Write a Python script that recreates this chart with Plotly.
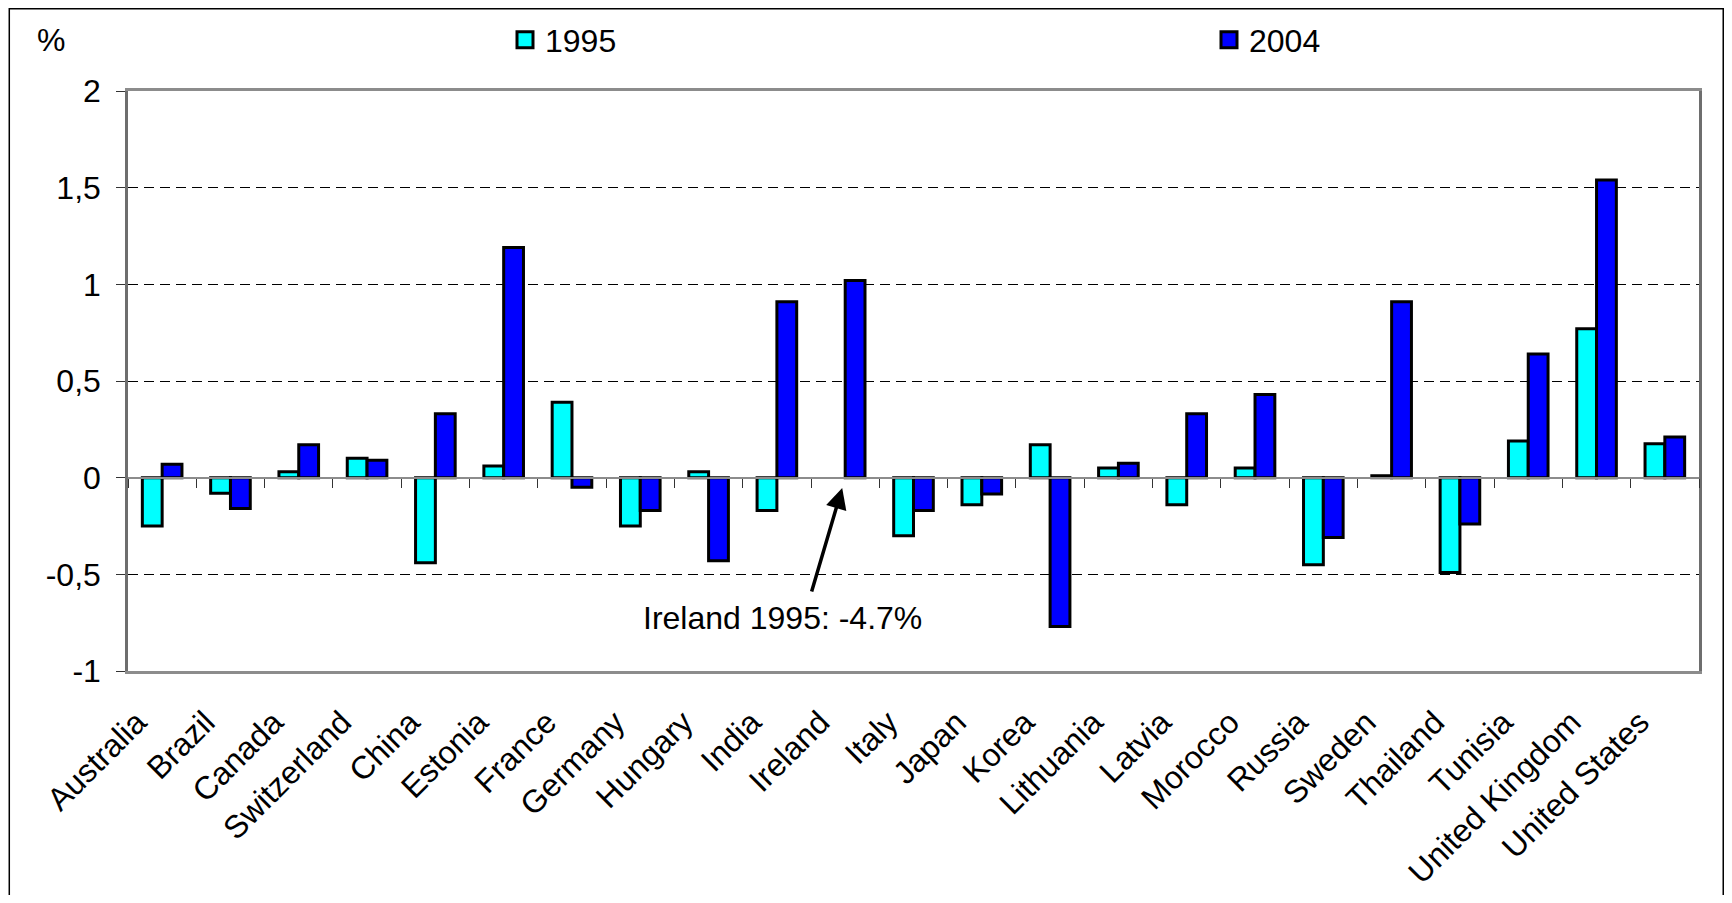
import plotly.graph_objects as go

countries = ["Australia", "Brazil", "Canada", "Switzerland", "China", "Estonia", "France",
             "Germany", "Hungary", "India", "Ireland", "Italy", "Japan", "Korea", "Lithuania",
             "Latvia", "Morocco", "Russia", "Sweden", "Thailand", "Tunisia", "United Kingdom",
             "United States"]
values_1995 = [-0.25, -0.08, 0.03, 0.10, -0.44, 0.06, 0.39, -0.25, 0.03, -0.17, None, -0.30,
               -0.14, 0.17, 0.05, -0.14, 0.05, -0.45, 0.01, -0.49, 0.19, 0.77, 0.175]
values_2004 = [0.07, -0.16, 0.17, 0.09, 0.33, 1.19, -0.05, -0.17, -0.43, 0.91, 1.02, -0.17,
               -0.085, -0.77, 0.075, 0.33, 0.43, -0.31, 0.91, -0.24, 0.64, 1.54, 0.21]
series_names = ["1995", "2004"]
y_tickvals = [-1, -0.5, 0, 0.5, 1, 1.5, 2]
y_ticktext = ["-1", "-0,5", "0", "0,5", "1", "1,5", "2"]
annotation_text = "Ireland 1995: -4.7%"
unit_label = "%"

FONT = "Liberation Sans, Arial, sans-serif"
C1995 = "#00FFFF"
C2004 = "#0000FF"

# The page body has an 8px margin: size the figure so it fits the window exactly.
OFF = 8
FW, FH = 1732 - 2 * OFF, 903 - 2 * OFF
# plot area in window pixels
X0W, X1W, Y0W, Y1W = 127.5, 1699, 91, 671
L, T = X0W - OFF, Y0W - OFF
R, B = FW - (X1W - OFF), FH - (Y1W - OFF)
pw, ph = X1W - X0W, Y1W - Y0W


def px_x(px):
    return (px - X0W) / pw


def px_y(py):
    return (Y1W - py) / ph


fig = go.Figure()
fig.add_trace(go.Bar(x=countries, y=values_1995, name=series_names[0],
                     marker=dict(color=C1995, line=dict(color="black", width=3)),
                     showlegend=False))
fig.add_trace(go.Bar(x=countries, y=values_2004, name=series_names[1],
                     marker=dict(color=C2004, line=dict(color="black", width=3)),
                     showlegend=False))
# legend entries (one legend each, placed like the original)
fig.add_trace(go.Scatter(x=[None], y=[None], mode="markers", name=series_names[0],
                         legend="legend",
                         marker=dict(symbol="square", size=16, color=C1995,
                                     line=dict(color="black", width=3))))
fig.add_trace(go.Scatter(x=[None], y=[None], mode="markers", name=series_names[1],
                         legend="legend2",
                         marker=dict(symbol="square", size=16, color=C2004,
                                     line=dict(color="black", width=3))))
# invisible trace to carry the zero-line category axis
fig.add_trace(go.Scatter(x=countries, y=[0] * len(countries), xaxis="x2", mode="markers",
                         marker=dict(opacity=0), hoverinfo="skip", showlegend=False))

leg_common = dict(orientation="h", xanchor="left", yanchor="middle", itemsizing="trace",
                  font=dict(family=FONT, size=32, color="black"),
                  bgcolor="rgba(0,0,0,0)", borderwidth=0, xref="container",
                  yref="container")

fig.update_layout(
    width=FW, height=FH,
    margin=dict(l=L, r=R, t=T, b=B, pad=0, autoexpand=False),
    paper_bgcolor="white", plot_bgcolor="white",
    font=dict(family=FONT, size=32, color="black"),
    barmode="group", bargap=0.42, bargroupgap=0,
    legend=dict(x=(525 - 20 - OFF) / FW, y=1 - (40 - OFF) / FH, **leg_common),
    legend2=dict(x=(1229 - 20 - OFF) / FW, y=1 - (40 - OFF) / FH, **leg_common),
    xaxis=dict(type="category", range=[-0.5, len(countries) - 0.5], showline=True,
               linecolor="#8c8c8c", linewidth=2.5, mirror=True, ticks="", tickangle=-45,
               showgrid=False, zeroline=False, tickfont=dict(family=FONT, size=32),
               ticklabelstandoff=17, ticklabelshift=-25, automargin=False),
    xaxis2=dict(type="category", overlaying="x", anchor="free", position=1 / 3,
                range=[-0.5, len(countries) - 0.5], categoryorder="array",
                categoryarray=countries, showline=True, linecolor="#8c8c8c", linewidth=2,
                ticks="outside", ticklen=9, tickwidth=1.2, tickcolor="#333333",
                tickson="boundaries", showticklabels=False, showgrid=False, zeroline=False,
                automargin=False),
    yaxis=dict(range=[-1, 2], tickvals=y_tickvals, ticktext=y_ticktext, showline=True,
               linecolor="#6e6e6e", linewidth=2.5, mirror=True, ticks="outside", ticklen=9,
               tickwidth=1.2, tickcolor="#333333", showgrid=True, gridcolor="black",
               gridwidth=1, griddash="10px,6px", zeroline=False,
               tickfont=dict(family=FONT, size=32), ticklabelstandoff=9, automargin=False),
    showlegend=True,
)

# outer chart border (bottom edge lies just outside the picture, as in the original)
fig.add_shape(type="rect", xref="paper", yref="paper",
              x0=px_x(OFF + 0.75), x1=px_x(OFF + FW - 0.75), y0=px_y(OFF + FH + 6),
              y1=px_y(OFF + 0.75),
              line=dict(color="black", width=1.5), fillcolor="rgba(0,0,0,0)", layer="below")

# "%" unit label
fig.add_annotation(xref="paper", yref="paper", x=px_x(50), y=px_y(40), text=unit_label,
                   showarrow=False, xanchor="center", yanchor="middle",
                   font=dict(family=FONT, size=32, color="black"))

# arrow pointing at Ireland
fig.add_annotation(x="Ireland", y=-0.053, xref="x", yref="y", xshift=-3, text="",
                   showarrow=True, ax=-31, ay=105, arrowhead=2, arrowwidth=3.5,
                   arrowsize=1.2, arrowcolor="black", standoff=0)
fig.add_annotation(xref="paper", yref="y", x=px_x(782), y=-0.725, text=annotation_text,
                   showarrow=False, xanchor="center", yanchor="middle",
                   font=dict(family=FONT, size=32, color="black"))

fig.write_html("out.html")
